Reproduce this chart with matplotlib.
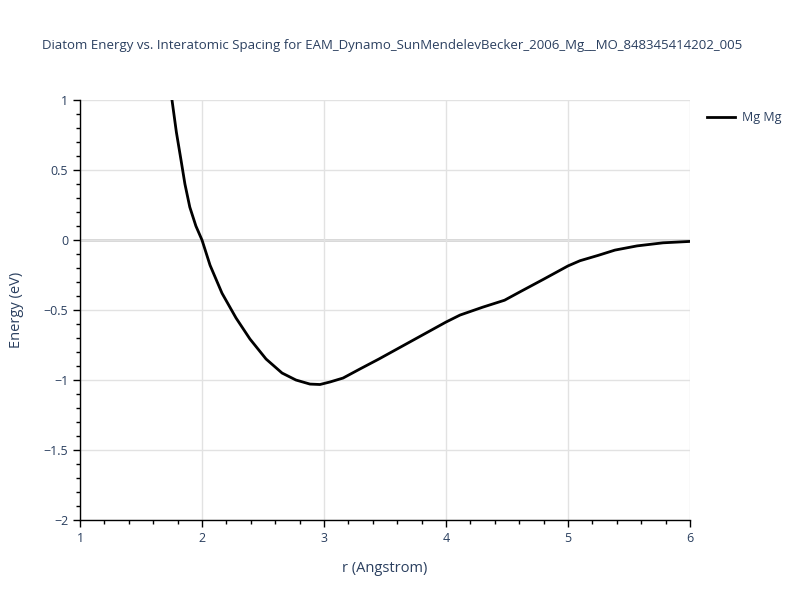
import numpy as np
import matplotlib
matplotlib.use("Agg")
import matplotlib.pyplot as plt
from matplotlib.ticker import MultipleLocator, FuncFormatter

# values
r_values = [1.70, 1.754, 1.79, 1.828, 1.86, 1.90, 1.95, 2.0, 2.066, 2.164,
            2.279, 2.393, 2.525, 2.656, 2.77, 2.885, 2.967, 3.049, 3.156,
            3.295, 3.45, 3.6, 3.75, 3.9, 4.0, 4.115, 4.3, 4.48, 4.607,
            4.8, 5.0, 5.098, 5.246, 5.385, 5.566, 5.779, 6.0]
energy_values = [1.35, 1.0, 0.77, 0.571, 0.40, 0.235, 0.10, 0.0, -0.18, -0.38,
                 -0.557, -0.707, -0.85, -0.95, -1.0, -1.029, -1.032, -1.014, -0.986,
                 -0.921, -0.85, -0.778, -0.706, -0.634, -0.586, -0.536, -0.48, -0.43, -0.37,
                 -0.28, -0.185, -0.148, -0.11, -0.072, -0.042, -0.02, -0.01]
series_name = "Mg Mg"
title = "Diatom Energy vs. Interatomic Spacing for EAM_Dynamo_SunMendelevBecker_2006_Mg__MO_848345414202_005"

text_col = "#2a3f5f"
plt.rcParams["font.family"] = ["Open Sans", "DejaVu Sans"]


def plotly_fmt(v, pos):
    s = f"{v:g}"
    if s == "-0":
        s = "0"
    return s.replace("-", "\u2212")


fig = plt.figure(figsize=(8, 6), dpi=100)
ax = fig.add_axes([0.1, 0.1333, 0.7625, 0.7])

ax.plot(r_values, energy_values, color="black", lw=2, label=series_name, zorder=3)

ax.set_xlim(1, 6)
ax.set_ylim(-2, 1)
ax.xaxis.set_major_locator(MultipleLocator(1))
ax.xaxis.set_minor_locator(MultipleLocator(0.2))
ax.yaxis.set_major_locator(MultipleLocator(0.5))
ax.yaxis.set_minor_locator(MultipleLocator(0.1))
ax.xaxis.set_major_formatter(FuncFormatter(plotly_fmt))
ax.yaxis.set_major_formatter(FuncFormatter(plotly_fmt))

ax.grid(True, which="major", color="#e2e2e2", lw=1, zorder=0)
ax.axhline(0, color="#cccccc", lw=1.8, zorder=1)

for s in ["top", "right"]:
    ax.spines[s].set_visible(False)
for s in ["left", "bottom"]:
    ax.spines[s].set_color("black")
    ax.spines[s].set_linewidth(1)

ax.tick_params(which="major", direction="out", length=5, width=1, color="black",
               labelsize=9, labelcolor=text_col)
ax.tick_params(which="minor", direction="out", length=3, width=1, color="black")

ax.set_xlabel("r (Angstrom)", fontsize=10.5, color=text_col, labelpad=12)
ax.set_ylabel("Energy (eV)", fontsize=10.5, color=text_col, labelpad=14)

fig.text(0.49, 0.925, title, ha="center", va="center", fontsize=9.5, color=text_col)

ax.legend(loc="upper left", bbox_to_anchor=(1.01, 1.0), frameon=False,
          fontsize=9, labelcolor=text_col, handlelength=2.2, handletextpad=0.6)

fig.savefig("out.png", dpi=100)
